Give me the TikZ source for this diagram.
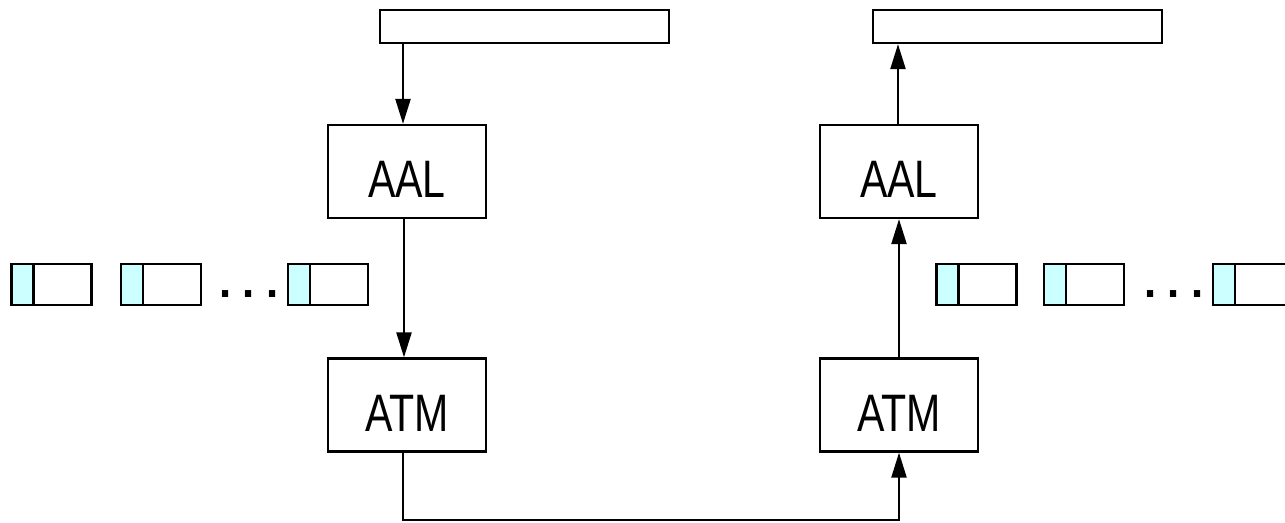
\documentclass[tikz,border=0pt]{standalone}
\usepackage{fontspec}
\setmainfont{Liberation Sans}[FakeStretch=0.78]
\newfontfamily\dotsfont{Liberation Sans}
\usetikzlibrary{arrows.meta}
\definecolor{cellcyan}{HTML}{CCFFFF}
\tikzset{
  bar/.style={draw, minimum width=5.78cm, minimum height=0.66cm, inner sep=0pt},
  layer/.style={draw, minimum width=3.16cm, minimum height=1.86cm, inner sep=0pt,
    font=\fontsize{30pt}{30pt}\selectfont, text height=1.04cm, text depth=0pt},
  cell/.style={draw, minimum width=1.6cm, minimum height=0.82cm, inner sep=0pt,
    path picture={
      \fill[cellcyan] (path picture bounding box.south west)
        rectangle ([xshift=0.44cm]path picture bounding box.north west);
      \draw ([xshift=0.44cm]path picture bounding box.south west)
        -- ([xshift=0.44cm]path picture bounding box.north west);}},
  ellip/.style={anchor=base, inner sep=0pt, font=\dotsfont\fontsize{37pt}{37pt}\selectfont},
  arr/.style={-{Triangle[length=0.5cm,width=0.3cm]}}
}
\begin{document}
\begin{tikzpicture}[x=0.02cm, y=-0.02cm, line width=1.3pt]
\useasboundingbox (0,0) rectangle (1285,522);

% sending side
\node[bar] (src) at (524.5,26.5) {};
\node[layer] (aalL) at (407,171.5) {AAL};
\node[layer] (atmL) at (407,405) {ATM};

% receiving side
\node[bar] (dst) at (1017.5,26.5) {};
\node[layer] (aalR) at (899,171.5) {AAL};
\node[layer] (atmR) at (899,405) {ATM};

% cell streams
\begin{scope}
\clip (0,0) rectangle (1285,522);
\node[cell] (cL1) at (51.5,284.5) {};
\node[cell] (cL2) at (161,284.5) {};
\node[ellip] (dL) at (249,297) {.\hspace{3pt}.\hspace{3pt}.};
\node[cell] (cL3) at (328,284.5) {};
\node[cell] (cR1) at (976.5,284.5) {};
\node[cell] (cR2) at (1084,284.5) {};
\node[ellip] (dR) at (1174,297) {.\hspace{3pt}.\hspace{3pt}.};
\node[cell] (cR3) at (1253,284.5) {};
\end{scope}

% data flow
\coordinate (inL) at ([xshift=-0.08cm]aalL.north);
\draw[arr] (src.south -| inL) -- (inL);
\draw[arr] ([xshift=-0.06cm]aalL.south) -- ([xshift=-0.06cm]atmL.north);
\coordinate (lowL) at ([xshift=-0.08cm]atmL.south);
\coordinate (bottom) at (0,520);
\draw[arr] (lowL) -- (lowL |- bottom) -- (atmR.south |- bottom) -- (atmR.south);
\draw[arr] (atmR.north) -- (aalR.south);
\coordinate (outR) at ([xshift=-0.02cm]aalR.north);
\draw[arr] (outR) -- (dst.south -| outR);
\end{tikzpicture}
\end{document}
